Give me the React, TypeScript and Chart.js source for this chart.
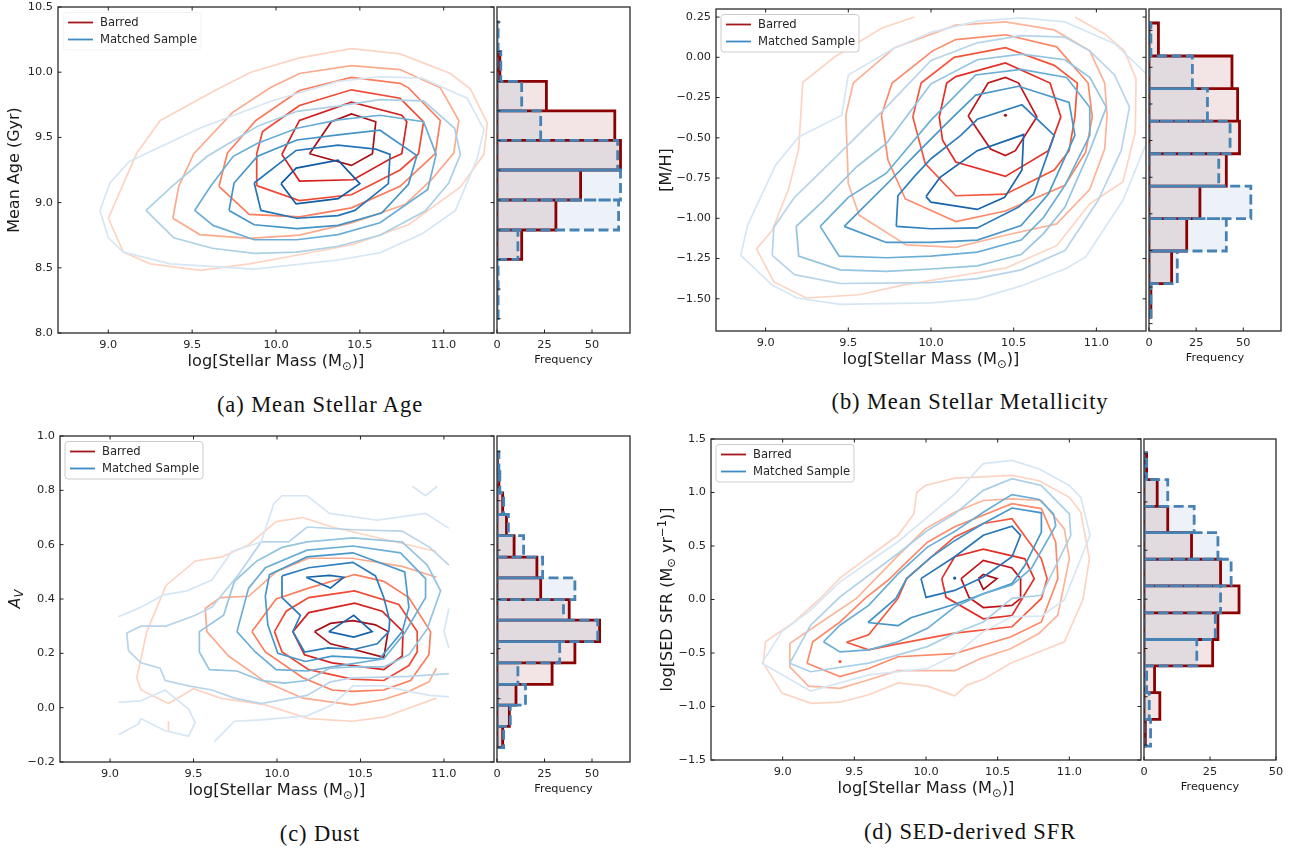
import React, { useEffect, useRef } from "react";
import { Chart, registerables } from "chart.js";

Chart.register(...registerables);

type Pt = [number, number];
const ring = (p: Pt[]): Pt[] => [...p, p[0]];

const seriesLabels = ["Barred", "Matched Sample"];
const massLabel = "log[Stellar Mass (M|⊙|)]";
const massTicks = [9, 9.5, 10, 10.5, 11];

const redShades6 = ["#fdd4c2", "#fcaa8d", "#fb7d5d", "#f04a36", "#d52221", "#a50f15"];
const blueShades6 = ["#d6e6f4", "#abd0e6", "#6aaed6", "#4594c7", "#2575b7", "#0f5aa3"];
const redShades7 = ["#fdd4c2", "#fcb499", "#fc8a6a", "#f6553c", "#e32f27", "#c0141a", "#a50f15"];
const blueShades7 = ["#d6e6f4", "#b7d4ea", "#94c4df", "#6aaed6", "#4a98c9", "#2e7ebc", "#1764ab"];

// ---------- (a) Mean Stellar Age ----------
const ageBarred: Pt[][] = [
  ring([[9.0,8.88],[9.09,8.62],[9.25,8.53],[9.55,8.48],[9.84,8.53],[10.14,8.60],[10.46,8.68],[10.79,8.83],[11.10,9.12],[11.24,9.37],[11.26,9.61],[11.16,9.87],[11.04,9.99],[10.74,10.14],[10.45,10.18],[10.14,10.11],[9.85,10.0],[9.65,9.87],[9.31,9.63],[9.17,9.38]]),
  ring([[9.385,8.88],[9.545,8.755],[9.84,8.725],[10.14,8.75],[10.45,8.845],[10.77,8.985],[10.93,9.18],[11.06,9.38],[11.09,9.63],[10.98,9.88],[10.74,10.02],[10.45,10.05],[10.14,9.99],[9.965,9.88],[9.74,9.69],[9.51,9.375],[9.42,9.125]]),
  ring([[9.66,9.125],[9.84,8.91],[10.14,8.89],[10.45,8.96],[10.74,9.125],[10.95,9.375],[10.98,9.63],[10.79,9.88],[10.74,9.915],[10.45,9.96],[10.14,9.86],[9.88,9.63],[9.71,9.38]]),
  ring([[9.885,9.13],[10.14,9.015],[10.45,9.06],[10.74,9.25],[10.85,9.375],[10.88,9.62],[10.74,9.80],[10.45,9.865],[10.14,9.745],[9.92,9.545],[9.885,9.375]]),
  ring([[10.035,9.37],[10.14,9.165],[10.46,9.175],[10.68,9.335],[10.75,9.375],[10.78,9.62],[10.75,9.67],[10.45,9.77],[10.14,9.63]]),
  ring([[10.20,9.375],[10.45,9.285],[10.575,9.375],[10.595,9.62],[10.45,9.68],[10.33,9.62]]),
];
const ageMatched: Pt[][] = [
  ring([[8.95,8.94],[9.0,8.73],[9.09,8.62],[9.37,8.53],[9.87,8.49],[10.37,8.56],[10.62,8.615],[10.87,8.76],[11.07,8.94],[11.2,9.34],[11.24,9.56],[11.14,9.80],[10.87,9.955],[10.62,9.965],[10.37,9.93],[9.965,9.775],[9.545,9.57],[9.125,9.315],[9.01,9.15]]),
  ring([[9.225,8.94],[9.39,8.73],[9.62,8.65],[9.87,8.61],[10.125,8.62],[10.37,8.665],[10.62,8.75],[10.89,8.935],[11.03,9.15],[11.1,9.37],[11.065,9.57],[10.88,9.78],[10.62,9.79],[10.37,9.74],[10.125,9.70],[9.89,9.585],[9.59,9.355],[9.38,9.125]]),
  ring([[9.515,8.94],[9.625,8.825],[9.87,8.715],[10.125,8.715],[10.37,8.755],[10.62,8.845],[10.905,9.10],[10.955,9.37],[10.88,9.62],[10.62,9.67],[10.37,9.635],[10.125,9.57],[9.89,9.455],[9.745,9.355],[9.61,9.125]]),
  ring([[9.72,8.94],[9.87,8.83],[10.125,8.80],[10.37,8.825],[10.63,8.92],[10.79,9.14],[10.84,9.36],[10.62,9.555],[10.37,9.52],[10.125,9.48],[9.89,9.355],[9.75,9.15]]),
  ring([[9.87,9.15],[9.91,8.94],[10.125,8.88],[10.37,8.90],[10.47,8.94],[10.67,9.145],[10.68,9.37],[10.595,9.41],[10.37,9.44],[10.12,9.40]]),
  ring([[10.03,9.145],[10.12,8.99],[10.37,9.03],[10.50,9.145],[10.37,9.325],[10.12,9.265]]),
];
const ageEdges = [8.11,8.337,8.564,8.79,9.02,9.25,9.477,9.704,9.93,10.158,10.385];
const ageBarredFreq = [0,0,13,31,44,65,62,26,1.5,0];
const ageMatchedFreq = [0.6,0.6,11,64,65,63.5,23,13,2,0.6];
const ageTicks = [8,8.5,9,9.5,10,10.5];
const ageHistTicks = [8.11,8.337,8.564,8.79,9.02,9.25,9.477,9.704,9.93,10.158,10.385];

// ---------- (b) Mean Stellar Metallicity ----------
const metalBarred: Pt[][] = [
  [[9.90,0.25],[9.70,0.18],[9.415,0],[9.225,-0.155],[9.20,-0.57],[9.14,-0.815],[9.04,-1.075],[8.945,-1.19],[9.05,-1.395],[9.245,-1.495],[9.565,-1.475],[9.83,-1.415],[10.15,-1.36],[10.45,-1.31],[10.76,-1.17],[10.96,-0.91],[11.16,-0.775],[11.235,-0.465],[11.24,-0.135],[11.17,0.04],[11.05,0.145],[10.87,0.25]],
  ring([[9.485,-0.36],[9.53,-0.16],[9.78,0.06],[10.15,0.20],[10.45,0.22],[10.745,0.17],[10.96,0.04],[11.05,-0.16],[11.065,-0.36],[11.05,-0.57],[10.96,-0.82],[10.76,-1.035],[10.45,-1.105],[10.15,-1.18],[9.85,-1.165],[9.565,-0.98],[9.50,-0.785]]),
  ring([[9.70,-0.36],[9.765,-0.16],[10.01,0.04],[10.15,0.11],[10.45,0.14],[10.76,0.065],[10.95,-0.16],[10.975,-0.37],[10.935,-0.59],[10.81,-0.795],[10.45,-0.955],[10.15,-1.02],[9.845,-0.88],[9.74,-0.64]]),
  ring([[9.89,-0.37],[9.94,-0.16],[10.14,0],[10.45,0.06],[10.745,-0.05],[10.885,-0.16],[10.87,-0.37],[10.835,-0.58],[10.745,-0.70],[10.45,-0.85],[10.15,-0.86],[9.965,-0.66]]),
  ring([[10.05,-0.37],[10.095,-0.16],[10.15,-0.12],[10.45,-0.035],[10.72,-0.16],[10.785,-0.37],[10.71,-0.58],[10.45,-0.74],[10.15,-0.65],[10.07,-0.515]]),
  ring([[10.225,-0.365],[10.345,-0.16],[10.45,-0.125],[10.53,-0.16],[10.64,-0.37],[10.51,-0.58],[10.45,-0.61],[10.36,-0.57]]),
  [[10.45,-0.36]],
];
const metalMatched: Pt[][] = [
  ring([[8.85,-1.23],[9.04,-1.415],[9.19,-1.495],[9.45,-1.535],[10.0,-1.525],[10.28,-1.5],[10.545,-1.42],[10.82,-1.31],[10.935,-1.24],[11.16,-0.89],[11.3,-0.54],[11.3,-0.10],[11.11,0.085],[10.81,0.22],[10.545,0.245],[10.28,0.225],[10.0,0.155],[9.765,0.05],[9.5,-0.11],[9.46,-0.36],[9.2,-0.495],[9.06,-0.67],[8.89,-1.045]]),
  ring([[9.04,-1.23],[9.175,-1.35],[9.45,-1.405],[10.0,-1.40],[10.28,-1.375],[10.545,-1.32],[10.81,-1.20],[11.01,-0.89],[11.15,-0.58],[11.2,-0.31],[11.11,-0.11],[10.96,0.04],[10.81,0.125],[10.545,0.135],[10.28,0.09],[10.0,-0.02],[9.73,-0.31],[9.375,-0.67],[9.175,-0.87],[9.05,-1.055]]),
  ring([[9.185,-1.05],[9.20,-1.235],[9.45,-1.32],[9.73,-1.33],[10.0,-1.315],[10.28,-1.295],[10.545,-1.225],[10.68,-1.095],[10.81,-0.93],[10.96,-0.58],[11.06,-0.31],[10.96,-0.125],[10.81,-0.015],[10.545,0.02],[10.28,-0.015],[10.0,-0.165],[9.73,-0.535],[9.55,-0.68],[9.35,-0.89]]),
  ring([[9.33,-1.05],[9.445,-1.235],[9.73,-1.245],[10.0,-1.235],[10.28,-1.21],[10.545,-1.135],[10.68,-0.995],[10.81,-0.795],[10.96,-0.485],[10.96,-0.31],[10.82,-0.125],[10.545,-0.075],[10.27,-0.11],[10.0,-0.39],[9.73,-0.72],[9.50,-0.87]]),
  ring([[9.475,-1.05],[9.73,-1.15],[10.0,-1.15],[10.28,-1.135],[10.545,-1.045],[10.71,-0.85],[10.87,-0.485],[10.835,-0.28],[10.53,-0.18],[10.27,-0.235],[10.105,-0.40],[9.93,-0.58],[9.73,-0.79]]),
  ring([[9.79,-1.05],[10.0,-1.065],[10.28,-1.06],[10.53,-0.93],[10.62,-0.85],[10.745,-0.485],[10.55,-0.295],[10.28,-0.385],[10.18,-0.485],[10.0,-0.63],[9.9,-0.74],[9.8,-0.86]]),
  ring([[9.97,-0.865],[10.0,-0.90],[10.28,-0.945],[10.445,-0.87],[10.55,-0.70],[10.56,-0.48],[10.28,-0.58],[10.055,-0.745]]),
];
const metalEdges = [-1.613,-1.406,-1.203,-1.002,-0.80,-0.599,-0.396,-0.195,0.008,0.213];
const metalBarredFreq = [1,12,20,27,41,48,47,44,5];
const metalMatchedFreq = [1,15,41,54,37,43,31,23,1];
const metalTicks = [-1.5,-1.25,-1,-0.75,-0.5,-0.25,0,0.25];
const metalHistTicks = [-1.654,-1.427,-1.2,-0.972,-0.745,-0.517,-0.29,-0.062,0.167];

// ---------- (c) Dust ----------
const dustBarred: Pt[][] = [
  [[10.955,0.035],[10.64,-0.035],[10.45,-0.05],[10.19,-0.04],[9.93,0.01],[9.66,0.035],[9.50,0.07],[9.35,0.015],[9.185,0.065],[9.16,0.11],[9.22,0.28],[9.335,0.45],[9.51,0.54],[9.67,0.555],[9.83,0.60],[9.995,0.685],[10.155,0.70],[10.33,0.665],[10.955,0.575]],
  [[9.35,-0.05],[9.35,-0.09]],
  [[10.955,0.48],[10.75,0.52],[10.45,0.55],[10.19,0.55],[9.995,0.50],[9.83,0.41],[9.66,0.405],[9.57,0.365],[9.58,0.28],[9.71,0.19],[9.93,0.095],[10.155,0.035],[10.45,0.01],[10.64,0.03],[10.79,0.06],[10.91,0.095],[10.955,0.145]],
  ring([[9.85,0.28],[9.93,0.205],[10.155,0.11],[10.33,0.065],[10.45,0.06],[10.64,0.065],[10.80,0.10],[10.91,0.195],[10.92,0.28],[10.79,0.405],[10.64,0.465],[10.465,0.49],[10.19,0.44],[9.995,0.40]]),
  ring([[9.985,0.28],[10.03,0.205],[10.19,0.14],[10.45,0.105],[10.64,0.10],[10.79,0.155],[10.84,0.205],[10.84,0.28],[10.73,0.38],[10.465,0.43],[10.19,0.405],[10.055,0.355]]),
  ring([[10.095,0.28],[10.165,0.195],[10.33,0.165],[10.64,0.14],[10.75,0.19],[10.755,0.28],[10.63,0.355],[10.465,0.385],[10.19,0.35]]),
  ring([[10.225,0.28],[10.32,0.235],[10.455,0.215],[10.64,0.185],[10.665,0.28],[10.59,0.305],[10.455,0.32],[10.32,0.31]]),
];
const dustBarredLevels = [0,0,1,2,3,4,5];
const dustMatched: Pt[][] = [
  [[9.05,0.335],[9.185,0.37],[9.32,0.415],[9.46,0.43],[9.61,0.47],[9.73,0.575],[9.905,0.61],[9.98,0.75],[10.03,0.78],[10.18,0.78],[10.315,0.715],[10.60,0.69],[10.89,0.715],[11.03,0.66]],
  [[10.81,0.815],[10.89,0.78],[10.96,0.815]],
  [[9.05,0.02],[9.185,0.025],[9.33,0.065],[9.47,-0.005],[9.51,-0.055],[9.47,-0.105],[9.33,-0.085],[9.185,-0.04],[9.17,-0.06],[9.05,-0.10]],
  [[9.625,-0.125],[9.745,-0.05],[9.905,-0.045],[10.18,-0.03],[10.33,0.01],[10.455,0.08],[10.64,0.08],[10.79,0.06],[10.915,0.045],[11.03,0.04]],
  [[11.03,0.365],[11.0,0.28],[11.03,0.22]],
  [[11.03,0.125],[10.79,0.115],[10.455,0.11],[10.32,0.095],[10.18,0.045],[10.04,0.03],[9.905,0.015],[9.745,0.035],[9.61,0.065],[9.47,0.08],[9.33,0.10],[9.30,0.145],[9.185,0.165],[9.11,0.21],[9.10,0.275],[9.185,0.30],[9.335,0.30],[9.51,0.34],[9.61,0.37],[9.77,0.49],[9.905,0.61],[10.07,0.61],[10.18,0.665],[10.455,0.655],[10.75,0.65],[10.915,0.59],[11.03,0.525]],
  ring([[9.535,0.205],[9.595,0.14],[9.76,0.135],[9.905,0.10],[10.045,0.09],[10.18,0.10],[10.315,0.145],[10.455,0.15],[10.64,0.15],[10.79,0.195],[10.9,0.29],[10.98,0.43],[10.9,0.525],[10.75,0.61],[10.455,0.625],[10.18,0.61],[10.03,0.59],[9.88,0.54],[9.745,0.465],[9.68,0.34],[9.535,0.28]]),
  ring([[9.76,0.28],[9.87,0.205],[9.995,0.14],[10.18,0.135],[10.33,0.15],[10.64,0.18],[10.765,0.275],[10.89,0.405],[10.89,0.475],[10.74,0.57],[10.455,0.595],[10.18,0.58],[9.93,0.515],[9.83,0.44]]),
  ring([[9.93,0.41],[9.945,0.305],[10.005,0.20],[10.17,0.17],[10.33,0.19],[10.615,0.18],[10.75,0.28],[10.79,0.37],[10.765,0.50],[10.455,0.57],[10.18,0.555],[9.955,0.49]]),
  ring([[10.03,0.485],[10.03,0.405],[10.14,0.34],[10.095,0.28],[10.165,0.205],[10.305,0.22],[10.465,0.215],[10.60,0.235],[10.67,0.28],[10.675,0.32],[10.64,0.405],[10.59,0.485],[10.455,0.535],[10.19,0.515]]),
  ring([[10.175,0.48],[10.315,0.487],[10.40,0.48],[10.32,0.44]]),
  ring([[10.31,0.28],[10.46,0.34],[10.57,0.28],[10.46,0.26]]),
];
const dustMatchedLevels = [0,0,0,0,0,1,2,3,4,5,6,6];
const dustEdges = [-0.147,-0.069,0.009,0.086,0.165,0.243,0.322,0.398,0.478,0.554,0.633,0.711,0.791,0.869,0.942];
const dustBarredFreq = [3,6.5,10,29,41,54,38,23,21,9,5,3,1,0.5];
const dustMatchedFreq = [3.5,7,15,11,33,53,35,41,24,14,6,3.5,1.5,1];
const dustTicks = [-0.2,0,0.2,0.4,0.6,0.8,1];
const dustHistTicks = [-0.145,0.033,0.217,0.398,0.58,0.762,0.942];

// ---------- (d) SED-derived SFR ----------
const sfrBarred: Pt[][] = [
  ring([[8.88,-0.395],[8.865,-0.595],[8.995,-0.875],[9.20,-0.97],[9.40,-0.96],[9.60,-0.89],[9.805,-0.78],[10.01,-0.81],[10.20,-0.90],[10.285,-0.80],[10.40,-0.745],[10.59,-0.595],[10.965,-0.395],[11.095,0],[11.14,0.38],[11.08,0.815],[11.0,0.955],[10.79,1.11],[10.60,1.16],[10.20,1.135],[9.995,1.065],[9.935,1.0],[9.915,0.80],[9.805,0.60],[9.60,0.40],[9.40,0.20],[9.255,0],[9.08,-0.21]]),
  ring([[9.05,-0.41],[9.05,-0.63],[9.18,-0.81],[9.40,-0.83],[9.60,-0.75],[9.805,-0.665],[10.20,-0.665],[10.385,-0.55],[10.59,-0.46],[10.79,-0.315],[10.92,-0.145],[11.0,0.38],[10.965,0.66],[10.805,0.925],[10.60,0.94],[10.40,0.925],[10.20,0.815],[9.995,0.66],[9.805,0.41],[9.515,0.01],[9.255,-0.225]]),
  ring([[9.17,-0.595],[9.40,-0.72],[9.60,-0.645],[9.805,-0.535],[10.20,-0.505],[10.40,-0.425],[10.59,-0.35],[10.805,-0.21],[10.92,0.195],[10.905,0.535],[10.805,0.85],[10.60,0.895],[10.20,0.68],[10.01,0.535],[9.865,0.35],[9.735,0.18],[9.575,0.01],[9.40,-0.21],[9.21,-0.395]]),
  [[9.40,-0.58]],
  ring([[9.445,-0.40],[9.60,-0.47],[9.805,-0.415],[10.20,-0.315],[10.60,-0.255],[10.805,0.01],[10.845,0.195],[10.805,0.38],[10.60,0.755],[10.40,0.71],[10.20,0.585],[10.04,0.40],[9.865,0.195],[9.805,0.01],[9.60,-0.33]]),
  ring([[10.11,0.195],[10.14,0.02],[10.40,-0.18],[10.60,-0.15],[10.755,0.195],[10.69,0.38],[10.40,0.47],[10.20,0.40]]),
  ring([[10.245,0.195],[10.30,0.02],[10.40,-0.075],[10.60,-0.055],[10.66,0.01],[10.66,0.195],[10.60,0.295],[10.40,0.365]]),
  ring([[10.365,0.195],[10.40,0.095],[10.495,0.195],[10.40,0.235]]),
];
const sfrBarredLevels = [0,1,2,3,3,4,5,6];
const sfrMatched: Pt[][] = [
  ring([[8.855,-0.595],[9.195,-0.855],[9.60,-0.705],[10.01,-0.645],[10.20,-0.52],[10.40,-0.30],[10.60,-0.16],[10.805,-0.155],[10.965,-0.005],[11.145,0.60],[11.08,0.955],[11.0,1.065],[10.79,1.22],[10.60,1.30],[10.40,1.27],[10.20,0.985],[10.01,0.77],[9.805,0.54],[9.60,0.35],[9.40,0.165],[9.195,-0.10],[8.995,-0.30]]),
  ring([[9.05,-0.595],[9.195,-0.675],[9.60,-0.595],[10.01,-0.44],[10.20,-0.315],[10.40,-0.21],[10.60,0.01],[10.805,0.04],[11.01,0.60],[11.0,0.80],[10.805,1.065],[10.60,1.13],[10.40,1.02],[10.20,0.80],[10.01,0.645],[9.805,0.43],[9.60,0.225],[9.40,0.025],[9.195,-0.24]]),
  ring([[9.285,-0.395],[9.40,-0.49],[9.60,-0.47],[9.805,-0.395],[10.01,-0.27],[10.20,-0.07],[10.40,0.055],[10.60,0.135],[10.735,0.29],[10.905,0.69],[10.89,0.80],[10.79,0.935],[10.60,0.98],[10.40,0.815],[10.20,0.635],[10.01,0.49],[9.805,0.24],[9.60,-0.055],[9.40,-0.24]]),
  ring([[9.595,-0.215],[9.805,-0.245],[9.895,-0.17],[10.20,-0.045],[10.60,0.15],[10.69,0.32],[10.805,0.63],[10.805,0.81],[10.60,0.855],[10.40,0.71],[10.20,0.55],[10.04,0.40],[9.865,0.195],[9.79,0.01]]),
  ring([[9.965,0.195],[10.0,0.02],[10.20,0.085],[10.40,0.21],[10.60,0.40],[10.66,0.60],[10.60,0.685],[10.40,0.60],[10.20,0.40]]),
  [[10.2,0.2]],
];
const sfrMatchedLevels = [0,1,2,3,4,5];
const sfrEdges = [-1.37,-1.12,-0.87,-0.62,-0.374,-0.125,0.128,0.376,0.625,0.871,1.12,1.37];
const sfrBarredFreq = [0.5,6,4,26,28,36,29,18,9,5,1];
const sfrMatchedFreq = [2.5,2,1,20,27,29,33,28,19,9,1];
const sfrTicks = [-1.5,-1,-0.5,0,0.5,1,1.5];
const sfrHistTicks = [-1.36,-0.909,-0.458,0.003,0.46,0.912,1.363];

const panels = [
  { plot: [58, 7, 494, 333], hist: [497, 630], xr: [8.7, 11.3], yr: [8, 10.5], yt: ageTicks, dec: 1, yTitle: "Mean Age (Gyr)", titleX: 13,
    red: ageBarred, blue: ageMatched, redLv: [0,1,2,3,4,5], blueLv: [0,1,2,3,4,5], redPal: redShades6, bluePal: blueShades6,
    edges: ageEdges, fr: ageBarredFreq, fb: ageMatchedFreq, hMax: 70, hTicks: [0,25,50], hy: ageHistTicks,
    legendEdge: "#f2f2f2", caption: "(a) Mean Stellar Age", capY: 405, capX: 320 },
  { plot: [716, 9, 1146, 331], hist: [1149, 1281], xr: [8.7, 11.3], yr: [-1.7, 0.3], yt: metalTicks, dec: 2, yTitle: "[M/H]", titleX: 665,
    red: metalBarred, blue: metalMatched, redLv: [0,1,2,3,4,5,6], blueLv: [0,1,2,3,4,5,6], redPal: redShades7, bluePal: blueShades7,
    edges: metalEdges, fr: metalBarredFreq, fb: metalMatchedFreq, hMax: 70, hTicks: [0,25,50], hy: metalHistTicks,
    legendEdge: "#cccccc", caption: "(b) Mean Stellar Metallicity", capY: 402, capX: 970 },
  { plot: [60, 436, 494, 762], hist: [497, 630], xr: [8.7, 11.3], yr: [-0.2, 1], yt: dustTicks, dec: 1, yTitle: "A|V", titleX: 14,
    red: dustBarred, blue: dustMatched, redLv: dustBarredLevels, blueLv: dustMatchedLevels, redPal: redShades6, bluePal: blueShades7,
    edges: dustEdges, fr: dustBarredFreq, fb: dustMatchedFreq, hMax: 70, hTicks: [0,25,50], hy: dustHistTicks,
    legendEdge: "#cccccc", caption: "(c) Dust", capY: 834, capX: 320 },
  { plot: [711, 439, 1141, 760], hist: [1144, 1276], xr: [8.5, 11.5], yr: [-1.5, 1.5], yt: sfrTicks, dec: 1, yTitle: "log[SED SFR (M|⊙| yr|−1|)]", titleX: 666,
    red: sfrBarred, blue: sfrMatched, redLv: sfrBarredLevels, blueLv: sfrMatchedLevels, redPal: redShades7, bluePal: blueShades6,
    edges: sfrEdges, fr: sfrBarredFreq, fb: sfrMatchedFreq, hMax: 50, hTicks: [0,25,50], hy: sfrHistTicks,
    legendEdge: "#cccccc", caption: "(d) SED-derived SFR", capY: 832, capX: 970 },
];

const FONT = '"DejaVu Sans"';
const INK = "#262626";
const SPINE = "#3a3a3a";

function drawRich(ctx: CanvasRenderingContext2D, text: string, cx: number, cy: number, vertical: boolean, size: number) {
  // "a|b|c" = normal, reduced, normal; a reduced part starting with a minus is raised, others lowered.
  const parts = text.split("|");
  const isAv = text === "A|V";
  const segs = parts.map((t, i) => {
    const small = i % 2 === 1;
    const sup = small && t.startsWith("−");
    const fs = small ? size * 0.72 : size;
    const style = isAv ? "italic " : "";
    return { t, font: `${style}${fs}px ${FONT}`, dy: small ? (sup ? -size * 0.38 : size * 0.22) : 0 };
  });
  ctx.save();
  ctx.fillStyle = "#1a1a1a";
  ctx.textBaseline = "alphabetic";
  ctx.textAlign = "left";
  let w = 0;
  for (const s of segs) { ctx.font = s.font; w += ctx.measureText(s.t).width; }
  ctx.translate(cx, cy);
  if (vertical) ctx.rotate(-Math.PI / 2);
  let x = -w / 2;
  for (const s of segs) {
    ctx.font = s.font;
    ctx.fillText(s.t, x, size * 0.36 + s.dy);
    x += ctx.measureText(s.t).width;
  }
  ctx.restore();
}

const framePlugin = {
  id: "frame",
  afterDatasetsDraw(chart: any, _a: any, o: any) {
    const { ctx, chartArea: c, scales } = chart;
    ctx.save();
    ctx.strokeStyle = SPINE;
    ctx.lineWidth = 1.4;
    ctx.strokeRect(c.left, c.top, c.right - c.left, c.bottom - c.top);
    ctx.lineWidth = 1;
    ctx.strokeStyle = "#222";
    ctx.beginPath();
    const len = 3.5;
    for (const v of o.xTicks) {
      const p = scales.x.getPixelForValue(v);
      ctx.moveTo(p, c.bottom); ctx.lineTo(p, c.bottom - len);
      if (o.full) { ctx.moveTo(p, c.top); ctx.lineTo(p, c.top + len); }
    }
    for (const v of o.yTicks) {
      const p = scales.y.getPixelForValue(v);
      ctx.moveTo(c.left, p); ctx.lineTo(c.left + len, p);
      if (o.full) { ctx.moveTo(c.right, p); ctx.lineTo(c.right - len, p); }
    }
    ctx.stroke();
    ctx.restore();
    if (o.xTitle) {
      drawRich(ctx, o.xTitle, (c.left + c.right) / 2, c.bottom + o.xTitleGap, false, o.xTitleSize);
    }
    if (o.yTitle) {
      drawRich(ctx, o.yTitle, o.yTitleX, (c.top + c.bottom) / 2, true, 16);
    }
    if (o.legendEdge) {
      const x = c.left + 5, y = c.top + 5.5, w = 138, h = 37.5, r = 3;
      ctx.save();
      ctx.beginPath();
      ctx.roundRect(x, y, w, h, r);
      ctx.fillStyle = "rgba(255,255,255,0.8)";
      ctx.fill();
      ctx.strokeStyle = o.legendEdge;
      ctx.lineWidth = 1;
      ctx.stroke();
      const colors = ["#a5161a", "#3f8cc4"];
      ctx.font = `11.6px ${FONT}`;
      ctx.textBaseline = "middle";
      ctx.textAlign = "left";
      seriesLabels.forEach((label, i) => {
        const ly = y + 10 + i * 17;
        ctx.strokeStyle = colors[i];
        ctx.lineWidth = 1.8;
        ctx.beginPath();
        ctx.moveTo(x + 5, ly);
        ctx.lineTo(x + 30, ly);
        ctx.stroke();
        ctx.fillStyle = INK;
        ctx.fillText(label, x + 37, ly);
      });
      ctx.restore();
    }
  },
};

function scaleBase(range: number[], ticks: number[], marginSize: number, dim: "w" | "h", showLabels: boolean, fmt: (v: number) => string, pad: number) {
  return {
    type: "linear",
    min: range[0],
    max: range[1],
    offset: false,
    beginAtZero: false,
    grid: { display: false, drawTicks: false },
    border: { display: false },
    afterBuildTicks: (s: any) => { s.ticks = ticks.map((value) => ({ value })); },
    afterFit: (s: any) => {
      if (dim === "w") s.width = marginSize; else s.height = marginSize;
      s.paddingTop = 0; s.paddingBottom = 0; s.paddingLeft = 0; s.paddingRight = 0;
    },
    ticks: {
      display: showLabels,
      autoSkip: false,
      maxRotation: 0,
      padding: pad,
      color: INK,
      font: { family: FONT, size: 11.3 },
      callback: (v: any) => fmt(Number(v)),
    },
  };
}

function baseOptions(extra: any) {
  return {
    responsive: false,
    animation: false,
    devicePixelRatio: 1,
    maintainAspectRatio: false,
    events: [],
    plugins: { legend: { display: false }, tooltip: { enabled: false }, title: { display: false }, ...extra.plugins },
    layout: { padding: extra.padding },
    scales: extra.scales,
    indexAxis: extra.indexAxis,
  };
}

const MAIN_M = { l: 58, t: 6, r: 4, b: 40 };
const HIST_M = { l: 6, t: 6, r: 16, b: 40 };

function box(x0: number, y0: number, x1: number, y1: number, m: typeof MAIN_M) {
  return { left: x0 - m.l, top: y0 - m.t, width: x1 - x0 + m.l + m.r, height: y1 - y0 + m.t + m.b };
}

function contourSets(list: Pt[][], lv: number[], shades: string[], order: number) {
  return list.map((pts, i) => ({
    type: "scatter",
    showLine: pts.length > 1,
    data: pts.map(([x, y]) => ({ x, y })),
    borderColor: shades[lv[i]],
    backgroundColor: shades[lv[i]],
    borderWidth: 1.7,
    tension: 0,
    pointRadius: pts.length > 1 ? 0 : 1.6,
    pointBorderWidth: 0,
    order,
  }));
}

function outline(edges: number[], freq: number[]) {
  const out: any[] = [];
  freq.forEach((f, i) => {
    if (f <= 0) return;
    const a = edges[i], b = edges[i + 1];
    out.push({ x: 0, y: a }, { x: f, y: a }, { x: f, y: b }, { x: 0, y: b }, { x: 0, y: a }, { x: null, y: null });
  });
  return out;
}

function centers(edges: number[], freq: number[]) {
  return freq.map((f, i) => ({ x: f, y: (edges[i] + edges[i + 1]) / 2 }));
}

export default function App() {
  const refs = useRef<(HTMLCanvasElement | null)[]>([]);

  useEffect(() => {
    const charts: Chart[] = [];
    panels.forEach((p, i) => {
      const [l] = p.plot;
      const mainCanvas = refs.current[i * 2]!;
      const histCanvas = refs.current[i * 2 + 1]!;
      const fmt1 = (v: number) => v.toFixed(1);
      const fmtY = (v: number) => v.toFixed(p.dec).replace("-", "−");
      charts.push(
        new Chart(mainCanvas, {
          type: "scatter",
          data: {
            datasets: [
              ...contourSets(p.blue, p.blueLv, p.bluePal, 1),
              ...contourSets(p.red, p.redLv, p.redPal, 2),
            ],
          } as any,
          plugins: [framePlugin],
          options: baseOptions({
            padding: { top: MAIN_M.t, right: MAIN_M.r, left: 0, bottom: 0 },
            scales: {
              x: scaleBase(p.xr, massTicks, MAIN_M.b, "h", true, fmt1, 5),
              y: scaleBase(p.yr, p.yt, MAIN_M.l, "w", true, fmtY, 5),
            },
            plugins: {
              frame: {
                xTicks: massTicks, yTicks: p.yt, full: true,
                xTitle: massLabel, xTitleGap: 27.5, xTitleSize: 16.2,
                yTitle: p.yTitle, yTitleX: p.titleX - (l - MAIN_M.l),
                legendEdge: p.legendEdge,
              },
            },
          }) as any,
        })
      );
      const red = "#8b0000";
      const blue = "#4682b4";
      charts.push(
        new Chart(histCanvas, {
          type: "bar",
          data: {
            datasets: [
              { type: "bar", indexAxis: "y", data: centers(p.edges, p.fr), backgroundColor: "rgba(139,0,0,0.1)", borderWidth: 0, barPercentage: 1, categoryPercentage: 1, grouped: false, order: 4 },
              { type: "bar", indexAxis: "y", data: centers(p.edges, p.fb), backgroundColor: "rgba(70,130,180,0.1)", borderWidth: 0, barPercentage: 1, categoryPercentage: 1, grouped: false, order: 3 },
              { type: "scatter", indexAxis: "x", showLine: true, data: outline(p.edges, p.fr), borderColor: red, borderWidth: 2.8, borderJoinStyle: "miter", pointRadius: 0, tension: 0, order: 2 },
              { type: "scatter", indexAxis: "x", showLine: true, data: outline(p.edges, p.fb), borderColor: blue, borderWidth: 2.8, borderDash: [10, 4.5], borderJoinStyle: "miter", pointRadius: 0, tension: 0, order: 1 },
            ],
          } as any,
          plugins: [framePlugin],
          options: baseOptions({
            indexAxis: "y",
            padding: { top: HIST_M.t, right: HIST_M.r, left: 0, bottom: 0 },
            scales: {
              x: scaleBase([0, p.hMax], p.hTicks, HIST_M.b, "h", true, (v) => String(v), 5),
              y: scaleBase(p.yr, p.hy, HIST_M.l, "w", false, fmt1, 0),
            },
            plugins: {
              frame: { xTicks: p.hTicks, yTicks: p.hy, full: false, xTitle: "Frequency", xTitleGap: 25.5, xTitleSize: 11.3 },
            },
          }) as any,
        })
      );
    });
    return () => charts.forEach((c) => c.destroy());
  }, []);

  return (
    <div style={{ position: "absolute", left: 0, top: 0, width: 1300, height: 851, overflow: "hidden", background: "#fff" }}>
      {panels.map((p, i) => {
        const [l, t, r, b] = p.plot;
        const mb = box(l, t, r, b, MAIN_M);
        const hb = box(p.hist[0], t, p.hist[1], b, HIST_M);
        return (
          <React.Fragment key={p.caption}>
            <canvas
              ref={(el) => { refs.current[i * 2] = el; }}
              width={mb.width}
              height={mb.height}
              style={{ position: "absolute", left: mb.left, top: mb.top, width: mb.width, height: mb.height, filter: "blur(0.35px)" }}
            />
            <canvas
              ref={(el) => { refs.current[i * 2 + 1] = el; }}
              width={hb.width}
              height={hb.height}
              style={{ position: "absolute", left: hb.left, top: hb.top, width: hb.width, height: hb.height, filter: "blur(0.35px)" }}
            />
            <div
              style={{
                position: "absolute",
                left: p.capX - 200,
                width: 400,
                top: p.capY - 15,
                height: 30,
                lineHeight: "30px",
                textAlign: "center",
                fontFamily: '"Liberation Serif", serif',
                fontSize: 22.5,
                letterSpacing: "0.9px",
                color: "#111",
                whiteSpace: "nowrap",
              }}
            >
              {p.caption}
            </div>
          </React.Fragment>
        );
      })}
    </div>
  );
}
